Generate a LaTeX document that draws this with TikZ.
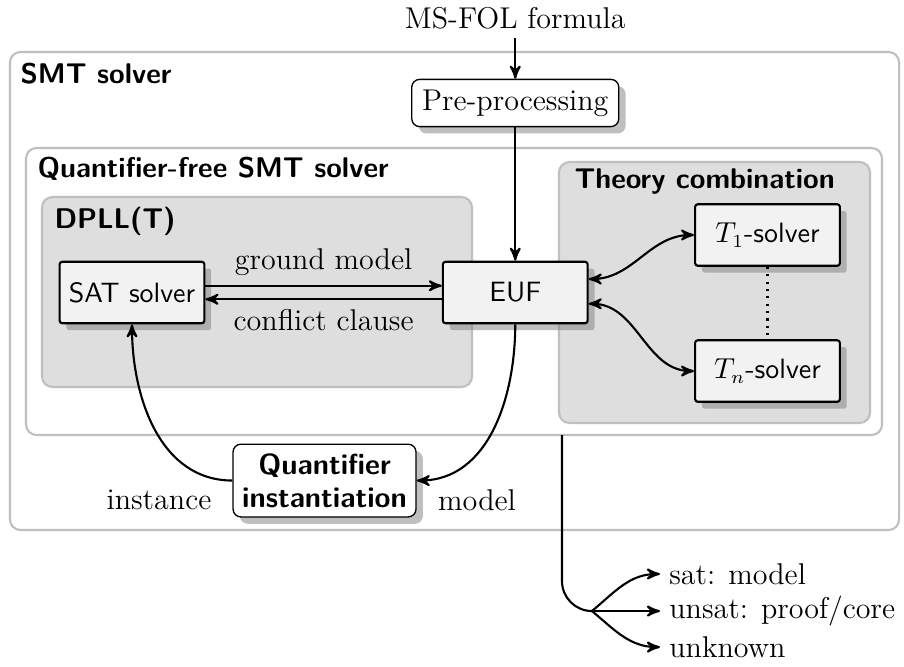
\documentclass[tikz,border=0pt]{standalone}
\usepackage{amsmath}
\usepackage{tikz}
\usetikzlibrary{calc,arrows,shadows}

\begin{document}
\begin{tikzpicture}[
  say/.style={font=\fontsize{11.4}{13}\selectfont},
  area/.style={draw=black!25, line width=0.8pt, rounded corners=4pt},
  inner area/.style={area, fill=black!13},
  area title/.style={anchor=base west, inner sep=0pt, font=\fontsize{10.8}{13}\selectfont\sffamily\bfseries},
  shade/.style={drop shadow={shadow xshift=2.6pt, shadow yshift=-2.6pt}},
  solver/.style={draw, line width=0.8pt, fill=black!5, rounded corners=1pt, minimum width=1.93cm, minimum height=0.82cm, font=\fontsize{10.6}{13}\selectfont\sffamily, shade},
  stage/.style={draw, line width=0.5pt, fill=white, rounded corners=3pt, shade},
  flow/.style={line width=0.8pt, ->, >=stealth'},
]
\useasboundingbox (0,0) rectangle (12.053,8.88);

\draw[area, fill=white] (0.133,1.813) rectangle (11.987,8.187);
\node[area title] (smt) at (0.267,7.773) {SMT solver};
\draw[area, fill=white] (0.347,3.08) rectangle (11.76,6.907);
\node[area title] (qf) at (0.493,6.52) {Quantifier-free SMT solver};
\draw[inner area] (0.56,3.72) rectangle (6.293,6.253);
\node[area title] (dpll) at (0.72,5.827) {DPLL(T)};
\draw[inner area] (7.453,3.24) rectangle (11.6,6.72);
\node[area title] (comb) at (7.653,6.373) {Theory combination};

\node[say] (input) at (6.87,8.64) {MS-FOL formula};
\node[stage, say, minimum width=2.76cm, minimum height=0.63cm] (pre) at (6.87,7.507) {Pre-processing};
\node[solver] (sat) at (1.76,4.98) {SAT solver};
\node[solver] (euf) at (6.87,4.98) {EUF};
\node[solver] (t1) at (10.233,5.747) {$T_1$-solver};
\node[solver] (tn) at (10.233,3.933) {$T_n$-solver};
\node[stage, font=\fontsize{11}{12.6}\selectfont\sffamily\bfseries, align=center, minimum width=2.44cm, minimum height=0.97cm, inner sep=1pt] (qi) at (4.327,2.473) {Quantifier\\instantiation};
\node[say] (inst) at (2.12,2.213) {instance};
\node[say] (model) at (6.36,2.213) {model};

\draw[flow] (input) -- (pre);
\draw[flow] (pre) -- (euf);
\draw[flow] ([yshift=0.9mm]sat.east) -- node[say, above] (gm) {ground model} ([yshift=0.9mm]euf.west);
\draw[flow] ([yshift=-0.9mm]euf.west) -- node[say, below] (cc) {conflict clause} ([yshift=-0.9mm]sat.east);
\draw[flow, <->] ([yshift=1.8mm]euf.east) to[out=0,in=180] (t1.west);
\draw[flow, <->] ([yshift=-1.5mm]euf.east) to[out=0,in=180] (tn.west);
\draw[line width=0.8pt, dotted] (t1) -- (tn);
\draw[flow] (euf) to[out=-90,in=0] (qi.east);
\draw[flow] (qi.west) to[out=180,in=-90] (sat);

\coordinate (result) at (7.493,3.08);
\coordinate (fork) at (7.893,0.733);
\draw[line width=0.8pt, rounded corners=0.4cm] (result) |- (fork);
\node[say, anchor=west] (satres) at (8.8,1.227) {sat: model};
\node[say, anchor=west] (unsatres) at (8.8,0.733) {unsat: proof/core};
\node[say, anchor=west] (unknownres) at (8.8,0.253) {unknown};
\foreach \res/\ang in {satres/40, unsatres/0, unknownres/-40}
  \draw[flow] (fork) to[out=\ang,in=180] (\res.west);
\end{tikzpicture}
\end{document}
